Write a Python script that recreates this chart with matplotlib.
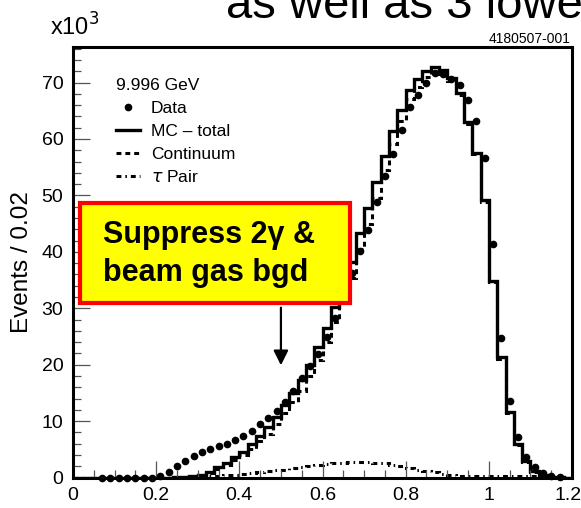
import numpy as np
import matplotlib
matplotlib.use('Agg')
import matplotlib.pyplot as plt
import matplotlib.transforms as mtransforms
from matplotlib.ticker import MultipleLocator, FuncFormatter
from matplotlib.patches import Rectangle

plt.rcParams['font.family'] = ['Liberation Sans', 'DejaVu Sans']

# histogram binning: 0.02 wide bins from 0 to 1.2
edges = np.round(np.arange(0, 1.2001, 0.02), 2)
centers = edges[:-1] + 0.01

# MC total (x10^3 events per bin)
mc_total = [0, 0, 0, 0, 0, 0, 0, 0, 0, 0, 0, 0,
            0.05, 0.1, 0.2, 0.5, 1.0, 1.8, 2.6, 3.6, 4.6, 5.9,
            7.3, 8.9, 10.7, 12.8, 15.0, 17.2, 20.0, 23.1, 26.5, 30.2,
            34.2, 38.2, 43.3, 47.8, 52.3, 57.0, 61.4, 65.1, 68.7, 70.6,
            72.0, 72.7, 72.3, 70.8, 68.2, 63.0, 57.6, 49.2, 34.9, 21.3,
            11.6, 5.9, 3.0, 1.2, 0.4, 0.15, 0.05, 0.0]

# continuum MC
continuum = [0, 0, 0, 0, 0, 0, 0, 0, 0, 0, 0, 0,
             0.05, 0.1, 0.15, 0.4, 0.8, 1.5, 2.2, 3.1, 4.0, 5.1,
             6.4, 7.8, 9.4, 11.4, 13.4, 15.4, 18.0, 20.9, 24.1, 27.6,
             31.5, 35.4, 40.5, 45.0, 49.6, 54.5, 59.1, 63.1, 67.0, 69.2,
             70.9, 71.8, 71.6, 70.3, 67.8, 62.7, 57.3, 48.9, 34.6, 21.0,
             11.4, 5.7, 2.8, 1.0, 0.3, 0.1, 0.05, 0.0]

# tau pair MC
tau_pair = [0, 0, 0, 0, 0, 0, 0, 0, 0, 0, 0, 0, 0, 0,
            0.05, 0.1, 0.2, 0.3, 0.4, 0.5, 0.6, 0.75, 0.9, 1.1,
            1.25, 1.4, 1.6, 1.8, 2.0, 2.2, 2.4, 2.55, 2.65, 2.75,
            2.8, 2.75, 2.65, 2.5, 2.25, 2.0, 1.7, 1.4, 1.1, 0.9,
            0.7, 0.5, 0.35, 0.3, 0.3, 0.3, 0.3, 0.3, 0.25, 0.25,
            0.2, 0.2, 0.1, 0.05, 0, 0]

# data at bin centres
data = [np.nan, np.nan, np.nan, 0, 0, 0, 0, 0, 0, 0,
        0.3, 1.0, 2.0, 3.0, 3.9, 4.6, 5.1, 5.6, 6.0, 6.7,
        7.4, 8.3, 9.4, 10.6, 11.8, 13.4, 15.4, 17.6, 19.8, 21.9,
        24.9, 28.3, 32.1, 36.2, 40.1, 43.9, 48.8, 53.4, 57.4, 61.6,
        65.6, 67.8, 70.0, 71.7, 71.6, 70.7, 69.6, 66.9, 63.1, 56.7,
        41.3, 24.8, 13.6, 7.1, 3.6, 1.8, 0.8, 0.3, 0.1, np.nan]

fig = plt.figure(figsize=(5.81, 5.08), dpi=100)
ax = fig.add_axes([0.1256, 0.060, 0.859, 0.8475])

ax.stairs(continuum, edges, color='black', lw=2.2, linestyle=(0, (1.6, 1.3)),
          label='Continuum')
ax.stairs(tau_pair, edges, color='black', lw=2.2,
          linestyle=(0, (1.6, 1.3, 0.5, 1.3)), label=r'$\tau$ Pair')
ax.stairs(mc_total, edges, color='black', lw=2.4, label='MC \u2013 total')
ax.plot(centers, data, 'o', color='black', ms=4.5, clip_on=False, zorder=5,
        label='Data')

ax.set_xlim(0, 1.2)
ax.set_ylim(0, 76.3)

for s in ax.spines.values():
    s.set_linewidth(2.2)

ax.xaxis.set_major_locator(MultipleLocator(0.2))
ax.xaxis.set_minor_locator(MultipleLocator(0.05))
ax.yaxis.set_major_locator(MultipleLocator(10))
ax.yaxis.set_minor_locator(MultipleLocator(2))
ax.xaxis.set_major_formatter(FuncFormatter(lambda v, p: f'{v:g}'))
ax.tick_params(which='both', direction='in', top=False, right=False,
               color='#555555', width=0.9, labelsize=14)
ax.tick_params(which='major', length=12, pad=7)
ax.tick_params(which='minor', length=6)

ax.set_ylabel('Events / 0.02', fontsize=17.5, labelpad=6)

# legend
handles, labels = ax.get_legend_handles_labels()
order = [3, 2, 0, 1]
leg = ax.legend([handles[i] for i in order], [labels[i] for i in order],
                title='9.996 GeV', loc='upper left', bbox_to_anchor=(0.055, 0.965),
                frameon=False, fontsize=12.5, title_fontsize=12.5,
                handlelength=1.4, handletextpad=0.6, labelspacing=0.45,
                alignment='left')

# annotation box and arrow
ax.add_patch(Rectangle((0.017, 30.9), 0.649, 17.8, facecolor='#ffff00',
                       edgecolor='#ff0000', lw=3, zorder=6))
ax.text(0.072, 39.6, 'Suppress 2\u03b3 &\nbeam gas bgd', fontsize=22,
        fontweight='bold', va='center', ha='left', linespacing=1.35, zorder=7)
ax.annotate('', xy=(0.5, 19.4), xytext=(0.5, 30.6),
            arrowprops=dict(arrowstyle='-|>', lw=1.6, color='black',
                            mutation_scale=22))

fig.text(0.086, 0.930, r'x10$^3$', fontsize=17)
fig.text(0.982, 0.916, '4180507-001', fontsize=10, ha='right')
fig.text(0.389, 0.965, 'as well as 3 lowe', fontsize=34, va='baseline')

# keep the 1.2 tick label inside the figure
fig.canvas.draw()
for tick in ax.xaxis.get_major_ticks():
    if abs(tick.get_loc() - 1.2) < 1e-6:
        lab = tick.label1
        lab.set_transform(lab.get_transform() +
                          mtransforms.ScaledTranslation(-3 / 72, 0,
                                                        fig.dpi_scale_trans))

fig.savefig('out.png', dpi=100)
